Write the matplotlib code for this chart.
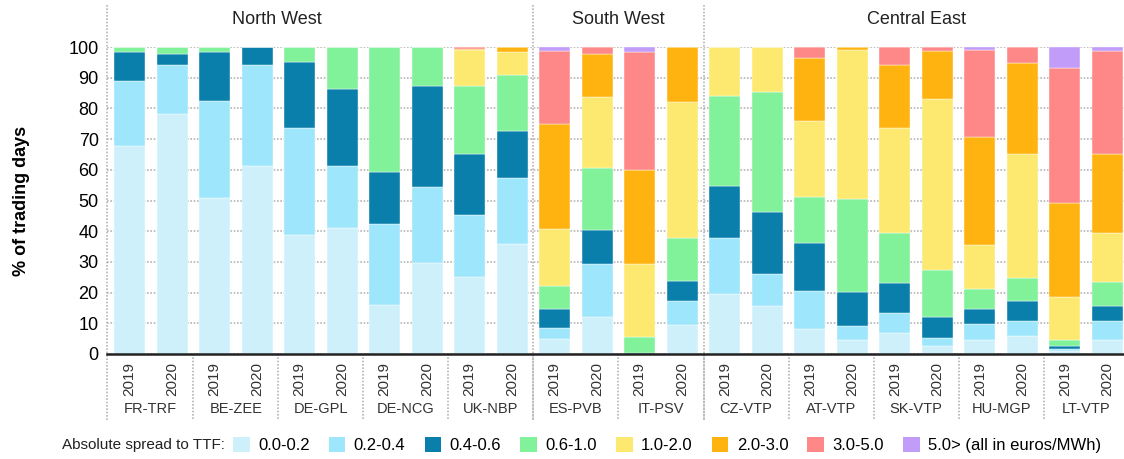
import matplotlib.pyplot as plt
import numpy as np
from matplotlib.patches import Patch

plt.rcParams['font.family'] = ['Liberation Sans Narrow', 'Liberation Sans', 'DejaVu Sans']

hubs = ['FR-TRF', 'BE-ZEE', 'DE-GPL', 'DE-NCG', 'UK-NBP', 'ES-PVB', 'IT-PSV',
        'CZ-VTP', 'AT-VTP', 'SK-VTP', 'HU-MGP', 'LT-VTP']
years = ['2019', '2020']
regions = ['North West', 'South West', 'Central East']
region_x = [3.46, 11.5, 18.5]

bands = ['0.0-0.2', '0.2-0.4', '0.4-0.6', '0.6-1.0', '1.0-2.0', '2.0-3.0', '3.0-5.0',
         '5.0> (all in euros/MWh)']
colors = ['#cdf0fa', '#9de6fc', '#0a7fab', '#82f29a', '#fde96f', '#ffb310', '#fd8887', '#c19cf8']

# share of trading days per spread band, one row per hub-year (2019, 2020 alternating)
shares = [
    [67.6, 21.3, 9.4, 1.7, 0, 0, 0, 0],        # FR-TRF 2019
    [78.3, 15.7, 3.8, 2.2, 0, 0, 0, 0],        # FR-TRF 2020
    [50.9, 31.6, 15.8, 1.7, 0, 0, 0, 0],       # BE-ZEE 2019
    [61.4, 32.6, 6.0, 0, 0, 0, 0, 0],          # BE-ZEE 2020
    [38.8, 34.7, 21.6, 4.9, 0, 0, 0, 0],       # DE-GPL 2019
    [41.0, 20.2, 25.2, 13.6, 0, 0, 0, 0],      # DE-GPL 2020
    [15.8, 26.6, 16.8, 40.8, 0, 0, 0, 0],      # DE-NCG 2019
    [29.6, 24.9, 32.7, 12.8, 0, 0, 0, 0],      # DE-NCG 2020
    [25.0, 20.4, 19.7, 22.1, 11.8, 0.4, 0.6, 0],   # UK-NBP 2019
    [35.9, 21.3, 15.4, 18.2, 7.6, 1.6, 0, 0],      # UK-NBP 2020
    [5.0, 3.6, 5.9, 7.6, 18.6, 34.3, 23.8, 1.2],   # ES-PVB 2019
    [11.9, 17.4, 11.2, 20.2, 23.0, 13.9, 2.4, 0],  # ES-PVB 2020
    [0, 0, 0.4, 5.1, 23.8, 30.5, 38.5, 1.7],       # IT-PSV 2019
    [9.6, 7.8, 6.3, 14.1, 44.4, 17.8, 0, 0],       # IT-PSV 2020
    [19.4, 18.5, 16.9, 29.3, 15.9, 0, 0, 0],       # CZ-VTP 2019
    [15.5, 10.5, 20.2, 39.1, 14.7, 0, 0, 0],       # CZ-VTP 2020
    [8.0, 12.5, 15.7, 15.0, 24.6, 20.5, 3.7, 0],   # AT-VTP 2019
    [4.4, 4.7, 11.0, 30.3, 48.7, 0.9, 0, 0],       # AT-VTP 2020
    [6.7, 6.7, 9.7, 16.3, 34.1, 20.5, 6.0, 0],     # SK-VTP 2019
    [2.5, 2.6, 7.1, 15.1, 55.7, 15.8, 1.2, 0],     # SK-VTP 2020
    [4.4, 5.4, 4.7, 6.8, 14.2, 35.2, 28.3, 1.0],   # HU-MGP 2019
    [6.0, 4.6, 6.8, 7.4, 40.4, 29.6, 5.2, 0],      # HU-MGP 2020
    [0.9, 0.8, 0.8, 1.9, 14.3, 30.6, 43.7, 7.0],   # LT-VTP 2019
    [4.4, 6.5, 4.7, 7.7, 16.1, 25.6, 33.8, 1.2],   # LT-VTP 2020
]

data = np.array(shares)
n = len(data)
x = np.arange(n)

fig = plt.figure(figsize=(11.24, 4.59), dpi=100)
ax = fig.add_axes([107 / 1124, 1 - 354 / 459, 1 - 107 / 1124, 307 / 459])

bottom = np.zeros(n)
for i in range(len(bands)):
    ax.bar(x, data[:, i], bottom=bottom, width=0.73, color=colors[i],
           edgecolor='white', linewidth=0.3, zorder=2)
    bottom += data[:, i]

ax.set_xlim(-0.53, 23.39)
ax.set_ylim(0, 100)
ax.set_yticks(range(0, 101, 10))
ax.tick_params(axis='y', length=0, labelsize=13, pad=6)
ax.yaxis.grid(True, linestyle=(0, (1, 1)), color='#b5b5b5', linewidth=1.2, zorder=0)
ax.set_axisbelow(True)
ax.set_ylabel('% of trading days', fontsize=13, fontweight='bold', labelpad=28)

for s in ['top', 'right', 'left']:
    ax.spines[s].set_visible(False)
ax.spines['bottom'].set_linewidth(1.8)
ax.spines['bottom'].set_color('#222222')

ax.set_xticks(x)
ax.set_xticklabels([years[i % 2] for i in x], rotation=90, fontsize=11, color='#333333')
ax.tick_params(axis='x', length=0, pad=6)

tr = ax.get_xaxis_transform()
for k, hub in enumerate(hubs):
    ax.text(2 * k + 0.5, -0.18, hub, transform=tr, ha='center', va='center',
            fontsize=10.5, color='#333333')

# separators between hub pairs below the axis
for k in range(1, len(hubs)):
    ax.plot([2 * k - 0.5] * 2, [0, -0.215], transform=tr, clip_on=False,
            color='#b5b5b5', linestyle=(0, (1, 1)), linewidth=1.2)
# region separators, full height
for xs in [-0.53, 9.5, 13.5]:
    ax.plot([xs] * 2, [-0.215, 1.137], transform=tr, clip_on=False,
            color='#b5b5b5', linestyle=(0, (1, 1)), linewidth=1.2)

for name, rx in zip(regions, region_x):
    ax.text(rx, 1.088, name, transform=tr, ha='center', va='center',
            fontsize=13, color='#222222')

fig.text(62 / 1124, 1 - 445 / 459, 'Absolute spread to TTF:', ha='left', va='center',
         fontsize=11, color='#222222')
handles = [Patch(facecolor=c, edgecolor='none') for c in colors]
fig.legend(handles, bands, loc='center left', bbox_to_anchor=(233 / 1124, 1 - 445 / 459),
           ncol=8, frameon=False, fontsize=12, handlelength=1.0, handleheight=1.0,
           handletextpad=0.5, columnspacing=1.15, borderaxespad=0, borderpad=0)

fig.savefig('out.png', dpi=100)
